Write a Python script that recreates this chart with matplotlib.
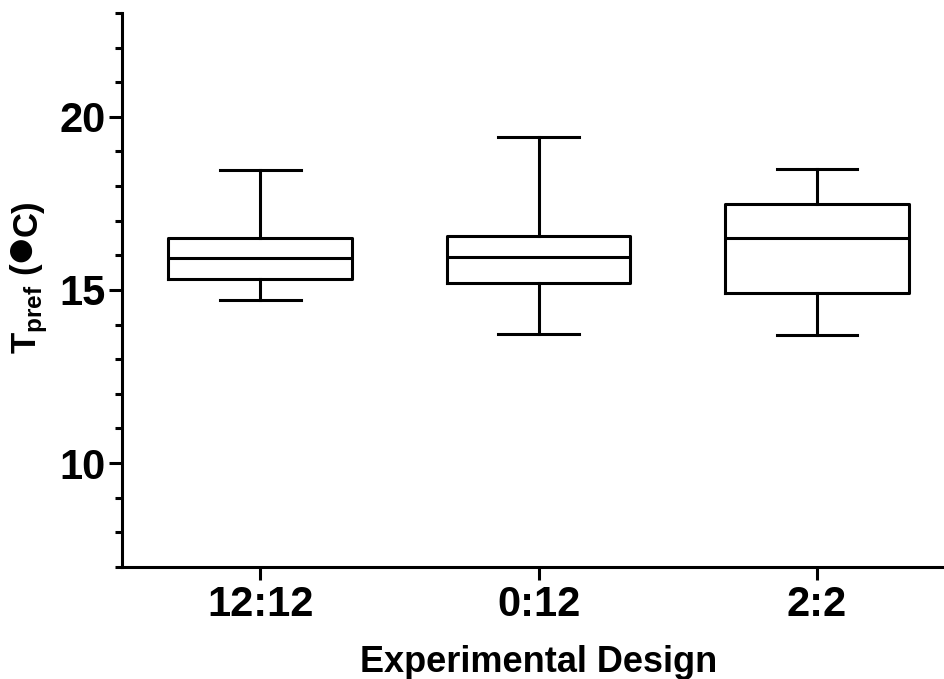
import matplotlib
matplotlib.use("Agg")
import matplotlib.pyplot as plt
from matplotlib.ticker import MultipleLocator

# box plot summary values (deg C)
groups = ["12:12", "0:12", "2:2"]
whislo = [14.72, 13.74, 13.69]
q1 = [15.32, 15.20, 14.91]
med = [15.91, 15.95, 16.51]
q3 = [16.49, 16.57, 17.48]
whishi = [18.45, 19.41, 18.50]

plt.rcParams["font.family"] = ["Liberation Sans", "DejaVu Sans"]
plt.rcParams["font.weight"] = "bold"
plt.rcParams["mathtext.fontset"] = "custom"
plt.rcParams["mathtext.rm"] = "Liberation Sans:bold"
plt.rcParams["mathtext.bf"] = "Liberation Sans:bold"

stats = []
for i, g in enumerate(groups):
    stats.append(dict(label=g, whislo=whislo[i], q1=q1[i], med=med[i],
                      q3=q3[i], whishi=whishi[i], fliers=[]))

W, H = 945, 679
fig = plt.figure(figsize=(W / 100, H / 100), dpi=100)
ax = fig.add_axes([0.129, 0.165, 0.871, 0.816])

lw = 2.2
ax.bxp(stats, positions=range(len(groups)), widths=0.66, capwidths=0.29,
       showfliers=False,
       boxprops=dict(color="black", linewidth=lw),
       medianprops=dict(color="black", linewidth=lw),
       whiskerprops=dict(color="black", linewidth=lw),
       capprops=dict(color="black", linewidth=lw))

ax.set_xlim(-0.497, 2.46)
ax.set_ylim(7, 23)
ax.yaxis.set_major_locator(MultipleLocator(5))
ax.yaxis.set_minor_locator(MultipleLocator(1))
ax.set_xticks(range(len(groups)))
ax.set_xticklabels(groups)

for side in ["top", "right"]:
    ax.spines[side].set_visible(False)
for side in ["left", "bottom"]:
    ax.spines[side].set_linewidth(lw)
ax.tick_params(axis="both", which="major", length=9.5, width=lw, labelsize=30)
ax.tick_params(axis="y", which="major", pad=2)
ax.tick_params(axis="x", which="major", pad=3.5)
ax.tick_params(axis="y", which="minor", length=5, width=lw)
ax.tick_params(axis="x", which="minor", length=0)
for lab in ax.get_xticklabels() + ax.get_yticklabels():
    lab.set_fontweight("bold")

fig.text(539 / W, 1 - 662 / H, "Experimental Design", fontsize=26,
         fontweight="bold", ha="center", va="center")

# y label built from pieces so the bullet (used as degree sign) sits high and large
renderer = fig.canvas.get_renderer()
kw = dict(rotation=90, rotation_mode="anchor", ha="left", va="baseline",
          fontweight="bold")
base_x = 37
t1 = fig.text(base_x / W, 1 - 354 / H, "T$_{\\mathregular{pref}}$ (",
              fontsize=25, **kw)
top = t1.get_window_extent(renderer).y1
t2 = fig.text((base_x - 9) / W, (top + 0.5) / H, "\u25cf", fontsize=21,
              family="DejaVu Sans", **kw)
top = t2.get_window_extent(renderer).y1
fig.text(base_x / W, (top + 0.5) / H, "C)", fontsize=25, **kw)

fig.savefig("out.png", dpi=100)
